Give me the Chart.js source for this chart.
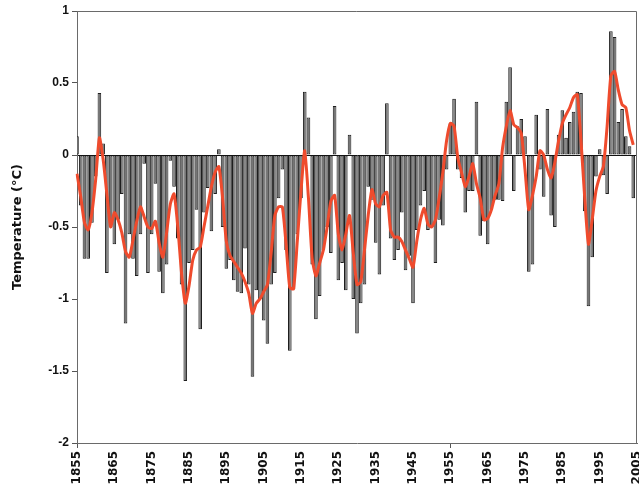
<!DOCTYPE html>
<html><head><meta charset="utf-8">
<script src="https://cdn.jsdelivr.net/npm/chart.js@4.4.1/dist/chart.umd.min.js"></script>
<style>html,body{margin:0;padding:0;background:#fff}#wrap{width:639px;height:488px;position:relative}</style>
</head><body><div id="wrap"><canvas id="c"></canvas></div>
<script>
const years = ["1855","1856","1857","1858","1859","1860","1861","1862","1863","1864","1865","1866","1867","1868","1869","1870","1871","1872","1873","1874","1875","1876","1877","1878","1879","1880","1881","1882","1883","1884","1885","1886","1887","1888","1889","1890","1891","1892","1893","1894","1895","1896","1897","1898","1899","1900","1901","1902","1903","1904","1905","1906","1907","1908","1909","1910","1911","1912","1913","1914","1915","1916","1917","1918","1919","1920","1921","1922","1923","1924","1925","1926","1927","1928","1929","1930","1931","1932","1933","1934","1935","1936","1937","1938","1939","1940","1941","1942","1943","1944","1945","1946","1947","1948","1949","1950","1951","1952","1953","1954","1955","1956","1957","1958","1959","1960","1961","1962","1963","1964","1965","1966","1967","1968","1969","1970","1971","1972","1973","1974","1975","1976","1977","1978","1979","1980","1981","1982","1983","1984","1985","1986","1987","1988","1989","1990","1991","1992","1993","1994","1995","1996","1997","1998","1999","2000","2001","2002","2003","2004","2005"];

const anomaly = [
 0.13,-0.35,-0.72,-0.72,-0.47,-0.15,0.43,0.08,-0.82,-0.5,
 -0.62,-0.45,-0.27,-1.17,-0.55,-0.72,-0.84,-0.55,-0.06,-0.82,
 -0.55,-0.2,-0.81,-0.96,-0.76,-0.04,-0.22,-0.58,-0.9,-1.57,
 -0.75,-0.66,-0.38,-1.21,-0.4,-0.23,-0.53,-0.27,0.04,-0.5,
 -0.79,-0.73,-0.87,-0.95,-0.96,-0.65,-0.9,-1.54,-0.94,-1.0,
 -1.15,-1.31,-0.9,-0.82,-0.3,-0.1,-0.66,-1.36,-0.93,-0.55,
 -0.3,0.44,0.26,-0.76,-1.14,-0.98,-0.66,-0.5,-0.68,0.34,
 -0.87,-0.75,-0.94,0.14,-1.0,-1.24,-1.03,-0.9,-0.22,-0.31,
 -0.61,-0.83,-0.35,0.36,-0.58,-0.73,-0.66,-0.4,-0.8,-0.7,
 -1.03,-0.52,-0.35,-0.25,-0.52,-0.5,-0.75,-0.45,-0.49,-0.1,
 0.22,0.39,-0.1,-0.16,-0.4,-0.25,-0.25,0.37,-0.56,-0.46,
 -0.62,-0.38,-0.31,-0.31,-0.32,0.37,0.61,-0.25,0.2,0.25,
 0.13,-0.81,-0.76,0.28,-0.1,-0.29,0.32,-0.42,-0.5,0.14,
 0.31,0.12,0.23,0.3,0.44,0.43,-0.39,-1.05,-0.71,-0.15,
 0.04,-0.14,-0.27,0.86,0.82,0.23,0.32,0.13,0.06,-0.3
];

const smoothed = [
 -0.13,-0.29,-0.47,-0.52,-0.4,-0.17,0.12,-0.03,-0.27,-0.5,
 -0.4,-0.45,-0.54,-0.67,-0.71,-0.59,-0.46,-0.36,-0.43,-0.5,
 -0.51,-0.46,-0.61,-0.71,-0.54,-0.34,-0.27,-0.5,-0.82,-1.03,
 -0.91,-0.73,-0.66,-0.64,-0.5,-0.36,-0.22,-0.12,-0.08,-0.3,
 -0.6,-0.7,-0.74,-0.78,-0.82,-0.88,-0.96,-1.1,-1.03,-1.0,
 -0.95,-0.9,-0.68,-0.42,-0.36,-0.36,-0.62,-0.92,-0.93,-0.6,
 -0.25,0.03,-0.3,-0.72,-0.84,-0.75,-0.66,-0.5,-0.32,-0.28,
 -0.55,-0.66,-0.55,-0.42,-0.68,-0.9,-0.88,-0.66,-0.42,-0.24,
 -0.34,-0.36,-0.28,-0.26,-0.52,-0.57,-0.57,-0.6,-0.66,-0.72,
 -0.78,-0.6,-0.45,-0.37,-0.48,-0.5,-0.45,-0.3,-0.12,0.1,
 0.22,0.2,-0.02,-0.12,-0.22,-0.15,-0.06,-0.2,-0.3,-0.45,
 -0.44,-0.38,-0.28,-0.2,0.05,0.2,0.31,0.21,0.19,0.15,
 -0.1,-0.38,-0.28,-0.15,0.03,0.0,-0.1,-0.16,-0.05,0.1,
 0.22,0.28,0.33,0.4,0.42,0.1,-0.3,-0.62,-0.45,-0.25,
 -0.15,-0.08,0.2,0.55,0.58,0.45,0.35,0.33,0.17,0.07
];

const yTicks = [1, 0.5, 0, -0.5, -1, -1.5, -2];
const yTitle = 'Temperature (°C)';

function labelled(i){ const y = years[i]; return y !== undefined && (+y) % 10 === 5; }

const framePlugin = {
  id: 'frame',
  afterDatasetsDraw(chart){
    const {ctx, chartArea: a} = chart;
    ctx.save();
    ctx.strokeStyle = '#6a6a6a';
    ctx.lineWidth = 1;
    ctx.beginPath();
    ctx.moveTo(a.left, a.top + 0.5);
    ctx.lineTo(a.right - 0.5, a.top + 0.5);
    ctx.lineTo(a.right - 0.5, a.bottom);
    ctx.stroke();
    ctx.restore();
  }
};

new Chart(document.getElementById('c'), {
  type: 'bar',
  data: {
    labels: years,
    datasets: [
      { type: 'line', data: smoothed, borderColor: '#ef4b2d', borderWidth: 3, pointRadius: 0,
        tension: 0.2, order: 0 },
      { type: 'bar', data: anomaly, backgroundColor: '#767676', borderColor: '#1e1e1e',
        borderWidth: 1, borderSkipped: false, barPercentage: 0.97, categoryPercentage: 1, order: 1 }
    ]
  },
  options: {
    responsive: true, maintainAspectRatio: false, animation: false,
    layout: { padding: { top: 11, right: 2, left: 0, bottom: 0 } },
    plugins: { legend: { display: false }, tooltip: { enabled: false } },
    scales: {
      x: {
        type: 'category', offset: false,
        grid: { drawOnChartArea: false, offset: false, tickLength: 5,
          tickColor: c => labelled(c.index) ? '#555' : 'rgba(0,0,0,0)' },
        border: { color: '#6a6a6a' },
        ticks: { autoSkip: false, minRotation: 90, maxRotation: 90, padding: 3,
          color: '#111', font: { family: 'DejaVu Sans', size: 12, weight: 'bold' },
          callback: (v, i) => labelled(i) ? years[i] : null },
        afterFit(s){ s.height = 45; s.paddingLeft = 0; s.paddingRight = 0; }
      },
      y: {
        min: -2, max: 1,
        afterBuildTicks(s){ s.ticks = yTicks.map(v => ({ value: v })); },
        grid: { tickLength: 5, tickColor: '#555',
          color: c => (c.tick && c.tick.value === 0) ? '#111' : 'rgba(0,0,0,0)' },
        border: { color: '#6a6a6a' },
        ticks: { padding: 3, color: '#111', font: { family: 'Liberation Sans', size: 12, weight: 'bold' },
          callback: v => String(v) },
        title: { display: true, text: yTitle, color: '#111',
          font: { family: 'DejaVu Sans', size: 13, weight: 'bold' }, padding: { top: 10, bottom: 0 } },
        afterFit(s){ s.width = 77; s.paddingTop = 0; s.paddingBottom = 0; }
      }
    }
  },
  plugins: [framePlugin]
});
</script></body></html>
